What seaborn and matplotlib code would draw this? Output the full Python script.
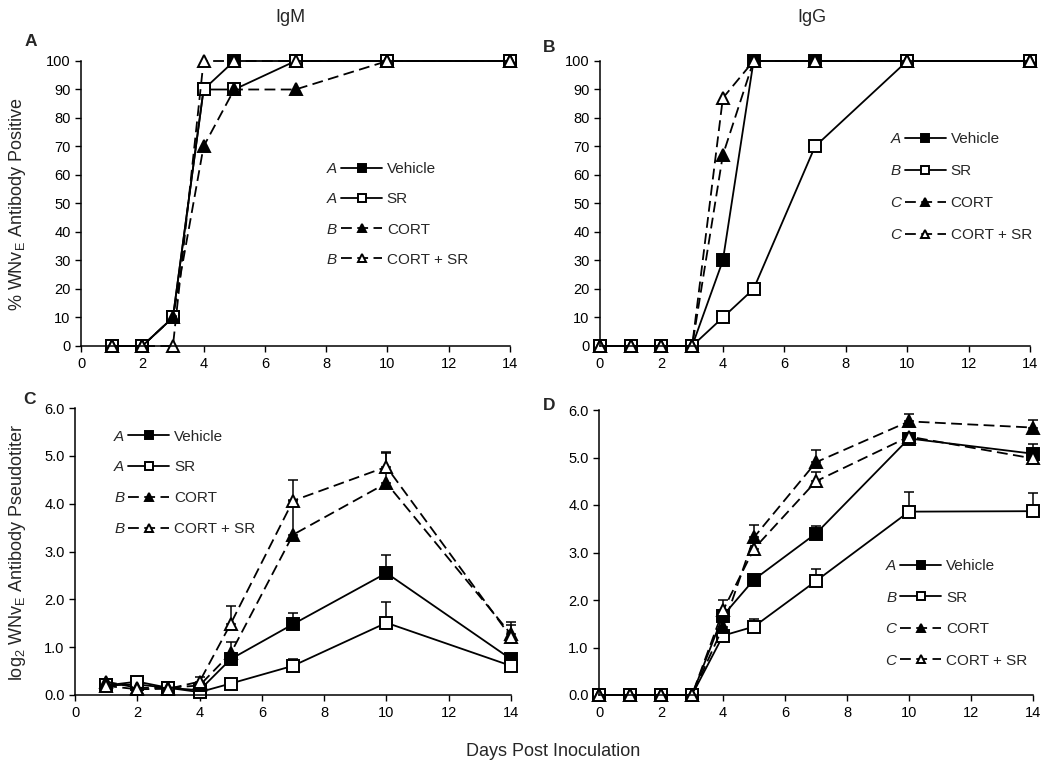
import numpy as np
import pandas as pd
import matplotlib
matplotlib.use("Agg")
import matplotlib.pyplot as plt
import seaborn as sns
from matplotlib.ticker import FormatStrFormatter, MultipleLocator

# ---------------- data ----------------
groups = ["Vehicle", "SR", "CORT", "CORT + SR"]

days_igm = [1, 2, 3, 4, 5, 7, 10, 14]
igm_vehicle = [0, 0, 10, 90, 100, 100, 100, 100]
igm_sr = [0, 0, 10, 90, 90, 100, 100, 100]
igm_cort = [0, 0, 10, 70, 90, 90, 100, 100]
igm_cort_sr = [0, 0, 0, 100, 100, 100, 100, 100]
igm_letters = ["A", "A", "B", "B"]

days_igg = [0, 1, 2, 3, 4, 5, 7, 10, 14]
igg_vehicle = [0, 0, 0, 0, 30, 100, 100, 100, 100]
igg_sr = [0, 0, 0, 0, 10, 20, 70, 100, 100]
igg_cort = [0, 0, 0, 0, 67, 100, 100, 100, 100]
igg_cort_sr = [0, 0, 0, 0, 87, 100, 100, 100, 100]
igg_letters = ["A", "B", "C", "C"]

days_tm = [1, 2, 3, 4, 5, 7, 10, 14]
tm_vehicle = [0.20, 0.22, 0.15, 0.10, 0.75, 1.48, 2.55, 0.75]
tm_vehicle_err = [0, 0, 0, 0, 0.12, 0.24, 0.37, 0.05]
tm_sr = [0.20, 0.28, 0.15, 0.06, 0.24, 0.61, 1.51, 0.61]
tm_sr_err = [0, 0, 0, 0, 0.03, 0.14, 0.43, 0.04]
tm_cort = [0.28, 0.15, 0.15, 0.20, 0.87, 3.35, 4.43, 1.27]
tm_cort_err = [0.03, 0, 0, 0.05, 0.24, 0.72, 0.62, 0.20]
tm_cort_sr = [0.19, 0.12, 0.13, 0.28, 1.49, 4.06, 4.77, 1.21]
tm_cort_sr_err = [0, 0, 0, 0.10, 0.37, 0.43, 0.31, 0.31]
tm_letters = ["A", "A", "B", "B"]

days_tg = [0, 1, 2, 3, 4, 5, 7, 10, 14]
tg_vehicle = [0, 0, 0, 0, 1.67, 2.43, 3.40, 5.40, 5.08]
tg_vehicle_err = [0, 0, 0, 0, 0.08, 0.10, 0.15, 0.05, 0.20]
tg_sr = [0, 0, 0, 0, 1.25, 1.44, 2.40, 3.86, 3.87]
tg_sr_err = [0, 0, 0, 0, 0, 0.16, 0.25, 0.41, 0.38]
tg_cort = [0, 0, 0, 0, 1.43, 3.32, 4.90, 5.76, 5.63]
tg_cort_err = [0, 0, 0, 0, 0.10, 0.26, 0.25, 0.15, 0.16]
tg_cort_sr = [0, 0, 0, 0, 1.78, 3.08, 4.50, 5.44, 4.98]
tg_cort_sr_err = [0, 0, 0, 0, 0.22, 0.17, 0.20, 0.05, 0.05]
tg_letters = ["A", "B", "C", "C"]

x_ticks = [0, 2, 4, 6, 8, 10, 12, 14]

# ---------------- style ----------------
sns.set_style("ticks")
plt.rcParams["font.family"] = ["Liberation Sans", "DejaVu Sans"]
plt.rcParams["mathtext.fontset"] = "custom"
plt.rcParams["mathtext.rm"] = "Liberation Sans"
plt.rcParams["mathtext.it"] = "Liberation Sans:italic"

W, H = 1050, 767
fig = plt.figure(figsize=(W / 100, H / 100), dpi=100)


def ax_at(l, t, r, b):
    return fig.add_axes([l / W, 1 - b / H, (r - l) / W, (b - t) / H])


axA = ax_at(81, 61, 510, 346)
axB = ax_at(600, 61, 1030, 346)
axC = ax_at(75, 408, 511, 695)
axD = ax_at(599, 410, 1033, 695)

styles = [
    dict(marker="s", markerfacecolor="black", linestyle="-"),
    dict(marker="s", markerfacecolor="white", linestyle="-"),
    dict(marker="^", markerfacecolor="black", linestyle=(0, (6, 3))),
    dict(marker="^", markerfacecolor="white", linestyle=(0, (6, 3))),
]


def draw(ax, days, series, errs=None):
    handles = []
    if errs is not None:
        for ys, es in zip(series, errs):
            ax.errorbar(days, ys, yerr=[np.zeros(len(es)), es], fmt="none",
                        ecolor="black", elinewidth=1.1, capsize=3.5,
                        capthick=1.1, zorder=1.5, clip_on=False)
    for name, ys, st in zip(groups, series, styles):
        df = pd.DataFrame({"day": days, "val": ys})
        sns.lineplot(data=df, x="day", y="val", ax=ax, color="black",
                     linewidth=1.3, markersize=8.5, markeredgecolor="black",
                     markeredgewidth=1.4, label=name, legend=False,
                     clip_on=False, **st)
        handles.append(ax.lines[-1])
    return handles


hA = draw(axA, days_igm, [igm_vehicle, igm_sr, igm_cort, igm_cort_sr])
hB = draw(axB, days_igg, [igg_vehicle, igg_sr, igg_cort, igg_cort_sr])
hC = draw(axC, days_tm, [tm_vehicle, tm_sr, tm_cort, tm_cort_sr],
          [tm_vehicle_err, tm_sr_err, tm_cort_err, tm_cort_sr_err])
hD = draw(axD, days_tg, [tg_vehicle, tg_sr, tg_cort, tg_cort_sr],
          [tg_vehicle_err, tg_sr_err, tg_cort_err, tg_cort_sr_err])

for ax in (axA, axB):
    ax.set_ylim(0, 100)
    ax.yaxis.set_major_locator(MultipleLocator(10))
for ax in (axC, axD):
    ax.set_ylim(0, 6)
    ax.yaxis.set_major_locator(MultipleLocator(1))
    ax.yaxis.set_major_formatter(FormatStrFormatter("%.1f"))
for ax in (axA, axB, axC, axD):
    ax.set_xlim(0, 14)
    ax.set_xticks(x_ticks)
    ax.set_xlabel("")
    ax.set_ylabel("")
    ax.tick_params(axis="both", labelsize=10.5, length=4, width=1,
                   color="black", labelcolor="black", direction="out")
    ax.tick_params(axis="x", pad=4)
    for s in ("top", "right"):
        ax.spines[s].set_visible(False)
    for s in ("left", "bottom"):
        ax.spines[s].set_linewidth(1.1)
        ax.spines[s].set_color("black")

legends = []
for ax, h, anchor, sp, letters in [
    (axA, hA, (0.606, 0.645), 1.06, igm_letters),
    (axB, hB, (0.709, 0.750), 1.17, igg_letters),
    (axC, hC, (0.122, 0.925), 1.1, tm_letters),
    (axD, hD, (0.694, 0.477), 1.15, tg_letters),
]:
    leg = ax.legend(handles=h, labels=groups, loc="upper left",
                    bbox_to_anchor=anchor, frameon=False, fontsize=11,
                    handlelength=2.7, handletextpad=0.3, labelspacing=sp,
                    borderpad=0, borderaxespad=0, markerscale=0.7)
    legends.append((leg, letters))

# titles, panel labels, axis labels
fig.text(290 / W, 1 - 18 / H, "IgM", ha="center", va="center", fontsize=13)
fig.text(812 / W, 1 - 18 / H, "IgG", ha="center", va="center", fontsize=13)
for lab, x, y in [("A", 31, 42), ("B", 549, 47), ("C", 30, 400), ("D", 549, 405)]:
    fig.text(x / W, 1 - y / H, lab, ha="center", va="center", fontsize=12.5,
             fontweight="bold")
fig.text(18 / W, 1 - 204 / H, r"% WNv$_{\mathrm{E}}$ Antibody Positive",
         rotation=90, ha="center", va="center", fontsize=13)
fig.text(18 / W, 1 - 552 / H, r"log$_{2}$ WNv$_{\mathrm{E}}$ Antibody Pseudotiter",
         rotation=90, ha="center", va="center", fontsize=13)
fig.text(553 / W, 1 - 752 / H, "Days Post Inoculation", ha="center",
         va="center", fontsize=13)

# italic group letters before each legend row
fig.canvas.draw()
renderer = fig.canvas.get_renderer()
inv = fig.transFigure.inverted()
for leg, letters in legends:
    lx0 = leg.get_window_extent(renderer).x0
    for txt, let in zip(leg.get_texts(), letters):
        bb = txt.get_window_extent(renderer)
        yc = (bb.y0 + bb.y1) / 2
        fx, fy = inv.transform((lx0 - 4, yc))
        fig.text(fx, fy, let, ha="right", va="center", fontsize=11,
                 fontstyle="italic")

fig.savefig("out.png", dpi=100)
